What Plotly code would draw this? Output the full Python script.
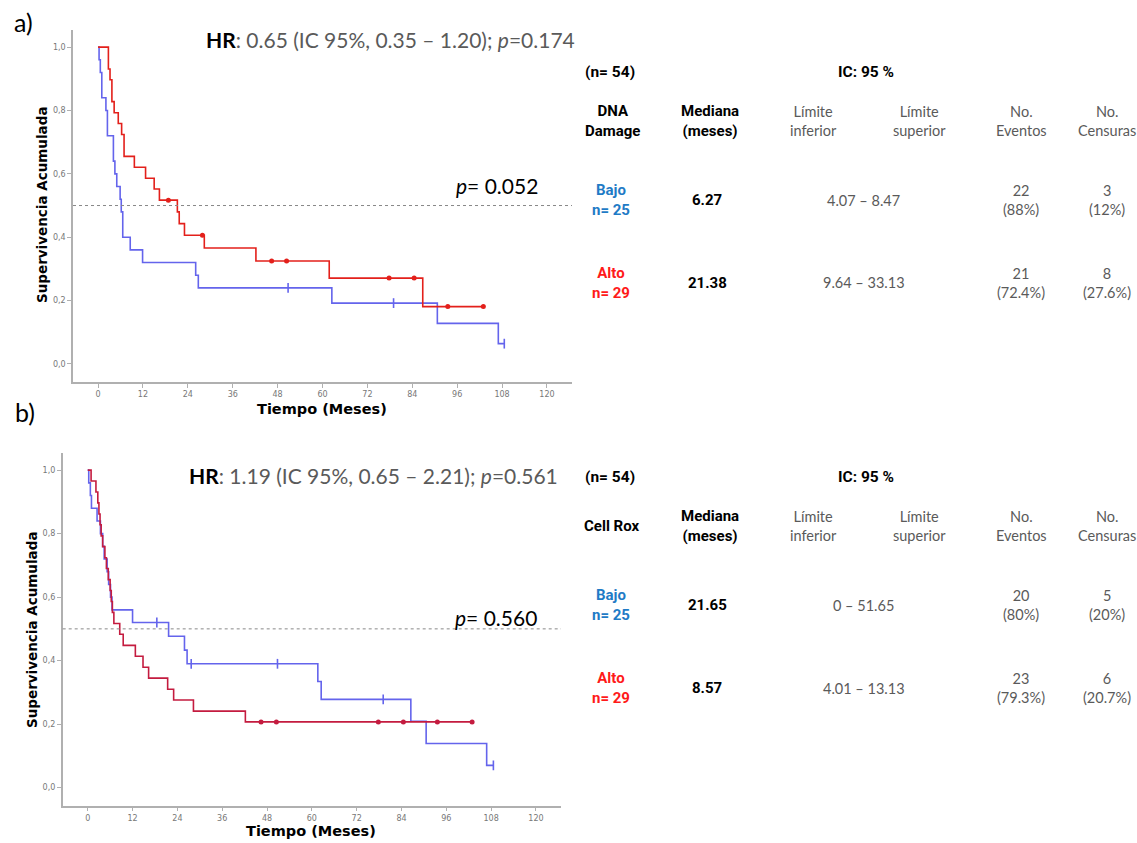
import plotly.graph_objects as go

W, H = 1137, 843

# ---------------- Data ----------------
# Panel a) DNA Damage
a_bajo_t = [0, 0.27, 0.6, 1.0, 2.1, 2.5, 4.1, 4.5, 5.0, 5.9, 6.2, 6.6, 8.6, 11.9, 26.1, 26.8, 62.5, 90.7, 107.0, 108.6]
a_bajo_s = [1.0, 0.96, 0.92, 0.84, 0.80, 0.72, 0.64, 0.60, 0.56, 0.52, 0.48, 0.40, 0.36, 0.32, 0.28, 0.24, 0.192, 0.128, 0.064, 0.064]
a_bajo_ct = [50.8, 79.0, 108.6]
a_bajo_cs = [0.24, 0.192, 0.064]

a_alto_t = [0, 2.76, 3.2, 3.7, 4.3, 5.4, 6.3, 6.95, 9.7, 12.7, 15.0, 16.4, 21.2, 21.7, 23.1, 28.4, 42.2, 61.8, 86.8, 103.0]
a_alto_s = [1.0, 0.931, 0.897, 0.828, 0.793, 0.759, 0.724, 0.655, 0.621, 0.586, 0.552, 0.517, 0.480, 0.443, 0.406, 0.366, 0.325, 0.271, 0.181, 0.181]
a_alto_ct = [18.8, 27.9, 46.4, 50.4, 77.8, 84.5, 93.5, 103.0]
a_alto_cs = [0.517, 0.406, 0.325, 0.325, 0.271, 0.271, 0.181, 0.181]

# Panel b) Cell Rox
b_bajo_t = [0, 0.27, 0.7, 1.0, 2.5, 3.4, 4.0, 4.4, 5.2, 5.6, 6.1, 6.5, 12.0, 21.65, 25.9, 26.6, 61.6, 62.5, 86.5, 90.6, 106.8, 108.6]
b_bajo_s = [1.0, 0.96, 0.92, 0.88, 0.84, 0.80, 0.76, 0.72, 0.68, 0.64, 0.60, 0.56, 0.52, 0.477, 0.433, 0.390, 0.334, 0.278, 0.209, 0.139, 0.070, 0.070]
b_bajo_ct = [18.5, 27.7, 50.8, 79.1, 108.6]
b_bajo_cs = [0.52, 0.39, 0.39, 0.278, 0.070]

b_alto_t = [0, 0.9, 2.2, 2.7, 3.0, 3.3, 3.6, 4.0, 4.6, 5.0, 5.5, 6.0, 6.3, 6.6, 7.0, 8.57, 9.5, 12.75, 14.8, 16.3, 21.4, 23.0, 28.3, 42.2, 102.9]
b_alto_s = [1.0, 0.966, 0.931, 0.897, 0.862, 0.828, 0.793, 0.759, 0.724, 0.690, 0.655, 0.621, 0.586, 0.552, 0.517, 0.483, 0.448, 0.414, 0.379, 0.345, 0.310, 0.276, 0.241, 0.207, 0.207]
b_alto_ct = [46.4, 50.5, 77.8, 84.5, 93.6, 102.9]
b_alto_cs = [0.207, 0.207, 0.207, 0.207, 0.207, 0.207]

x_ticks = [0, 12, 24, 36, 48, 60, 72, 84, 96, 108, 120]
y_ticks = [0.0, 0.2, 0.4, 0.6, 0.8, 1.0]
y_ticktext = ["0,0", "0,2", "0,4", "0,6", "0,8", "1,0"]

# tables
hr_a = "<span style='color:#000'><b>HR</b></span>: 0.65 (IC 95%, 0.35 – 1.20); <i>p</i>=0.174"
hr_b = "<span style='color:#000'><b>HR</b></span>: 1.19 (IC 95%, 0.65 – 2.21); <i>p</i>=0.561"
logrank_a = "<i>p</i>= 0.052"
logrank_b = "<i>p</i>= 0.560"

tab_a = {
    "group": "DNA<br>Damage",
    "median": ["6.27", "21.38"],
    "ci": ["4.07 – 8.47", "9.64 – 33.13"],
    "events": ["22<br>(88%)", "21<br>(72.4%)"],
    "cens": ["3<br>(12%)", "8<br>(27.6%)"],
}
tab_b = {
    "group": "Cell Rox",
    "median": ["21.65", "8.57"],
    "ci": ["0 – 51.65", "4.01 – 13.13"],
    "events": ["20<br>(80%)", "23<br>(79.3%)"],
    "cens": ["5<br>(20%)", "6<br>(20.7%)"],
}
row_labels = ["Bajo<br>n= 25", "Alto<br>n= 29"]

# ---------------- Styling ----------------
BLUE = "#6464EC"
RED_A = "#E3201B"
RED_B = "#C41B3F"
TAB_BLUE = "#1F7BC6"
TAB_RED = "#FF1A1A"
GRAY_TXT = "#5a5a5a"
AX_GRAY = "#b0b0b0"

fig = go.Figure()

def add_km(t, s, ct, cs, color, xa, ya, cens_symbol):
    fig.add_trace(go.Scatter(x=t, y=s, mode="lines", line=dict(color=color, width=1.6, shape="hv"),
                             xaxis=xa, yaxis=ya, showlegend=False, hoverinfo="skip"))
    if cens_symbol == "dot":
        mk = dict(symbol="circle", size=5, color=color)
    else:
        mk = dict(symbol="line-ns", size=7, color=color, line=dict(color=color, width=1.6))
    fig.add_trace(go.Scatter(x=ct, y=cs, mode="markers", marker=mk,
                             xaxis=xa, yaxis=ya, showlegend=False, hoverinfo="skip"))

add_km(a_bajo_t, a_bajo_s, a_bajo_ct, a_bajo_cs, BLUE, "x", "y", "tick")
add_km(a_alto_t, a_alto_s, a_alto_ct, a_alto_cs, RED_A, "x", "y", "dot")
add_km(b_bajo_t, b_bajo_s, b_bajo_ct, b_bajo_cs, BLUE, "x2", "y2", "tick")
add_km(b_alto_t, b_alto_s, b_alto_ct, b_alto_cs, RED_B, "x2", "y2", "dot")

def px(x):
    return x / W

def py(y):
    return 1 - y / H

axis_common = dict(showgrid=False, zeroline=False, showline=True, linecolor=AX_GRAY, linewidth=1.5,
                   ticks="outside", ticklen=4, tickcolor=AX_GRAY, tickwidth=1,
                   tickfont=dict(family="DejaVu Sans", size=8, color="#777"), mirror=False)

xr = [-6.7, 126.7]
yr = [-0.057, 1.054]

fig.update_layout(
    width=W, height=H, margin=dict(l=0, r=0, t=0, b=0),
    paper_bgcolor="white", plot_bgcolor="white",
    xaxis=dict(domain=[px(73), px(572)], range=xr, tickvals=x_ticks, anchor="y", **axis_common),
    yaxis=dict(domain=[py(382), py(30)], range=yr, tickvals=y_ticks, ticktext=y_ticktext, anchor="x", **axis_common),
    xaxis2=dict(domain=[px(62.7), px(561)], range=xr, tickvals=x_ticks, anchor="y2", **axis_common),
    yaxis2=dict(domain=[py(805.7), py(453)], range=yr, tickvals=y_ticks, ticktext=y_ticktext, anchor="x2", **axis_common),
)

# dotted median line
for xa, ya in [("x", "y"), ("x2", "y2")]:
    fig.add_shape(type="line", xref=f"{xa} domain", yref=ya, x0=0, x1=1, y0=0.5, y1=0.5,
                  line=dict(color="#888", width=1, dash="dot"))

ann = []

def text(x, y, s, size=14, color="#000", family="Lato", xanchor="center", angle=0):
    f = dict(size=size, color=color, family=family)
    ann.append(dict(x=px(x), y=py(y), xref="paper", yref="paper", text=s, showarrow=False,
                    xanchor=xanchor, yanchor="middle", font=f, textangle=angle, align="center"))

# panel labels
text(23, 22, "a)", size=25, family="Lato")
text(25, 412, "b)", size=25, family="Lato")

# HR texts
text(390, 40, hr_a, size=21, color=GRAY_TXT, family="Lato")
text(373, 476, hr_b, size=21, color=GRAY_TXT, family="Lato")
text(497, 186, logrank_a, size=21, family="Lato")
text(496, 617, logrank_b, size=21, family="Lato")

# axis titles
text(42, 205, "<b>Supervivencia Acumulada</b>", size=13.5, family="DejaVu Sans", angle=-90)
text(32, 630, "<b>Supervivencia Acumulada</b>", size=13.5, family="DejaVu Sans", angle=-90)
text(322, 409, "<b>Tiempo (Meses)</b>", size=14.5, family="DejaVu Sans")
text(311, 831, "<b>Tiempo (Meses)</b>", size=14.5, family="DejaVu Sans")

BOLD_FAM = "Liberation Sans Narrow, Roboto, sans-serif"
LIGHT_FAM = "Lato"

def table(tab, y0, group_y):
    text(610, y0, "<b>(n= 54)</b>", size=15.5, family=BOLD_FAM)
    text(866, y0, "<b>IC: 95 %</b>", size=15.5, family=BOLD_FAM)
    hy = y0 + 49
    text(612, group_y, f"<b>{tab['group']}</b>", size=15, family=BOLD_FAM)
    text(710, hy, "<b>Mediana<br>(meses)</b>", size=15, family=BOLD_FAM)
    text(813, hy, "Límite<br>inferior", size=14.5, color=GRAY_TXT, family=LIGHT_FAM)
    text(919, hy, "Límite<br>superior", size=14.5, color=GRAY_TXT, family=LIGHT_FAM)
    text(1021, hy, "No.<br>Eventos", size=14.5, color=GRAY_TXT, family=LIGHT_FAM)
    text(1107, hy, "No.<br>Censuras", size=14.5, color=GRAY_TXT, family=LIGHT_FAM)
    rows_y = [y0 + 128, y0 + 211]
    colors = [TAB_BLUE, TAB_RED]
    for i, ry in enumerate(rows_y):
        text(611, ry, f"<b>{row_labels[i]}</b>", size=15, color=colors[i], family=BOLD_FAM)
        text(707, ry, f"<b>{tab['median'][i]}</b>", size=15, family=BOLD_FAM)
        text(864, ry, tab["ci"][i], size=14.5, color=GRAY_TXT, family=LIGHT_FAM)
        text(1021, ry, tab["events"][i], size=14.5, color=GRAY_TXT, family=LIGHT_FAM)
        text(1107, ry, tab["cens"][i], size=14.5, color=GRAY_TXT, family=LIGHT_FAM)

table(tab_a, 72, 121)
table(tab_b, 477, 526)

fig.update_layout(annotations=ann)
fig.write_html("out.html", config={"displayModeBar": False},
               post_script="document.body.style.margin='0px';document.body.style.overflow='hidden';")
